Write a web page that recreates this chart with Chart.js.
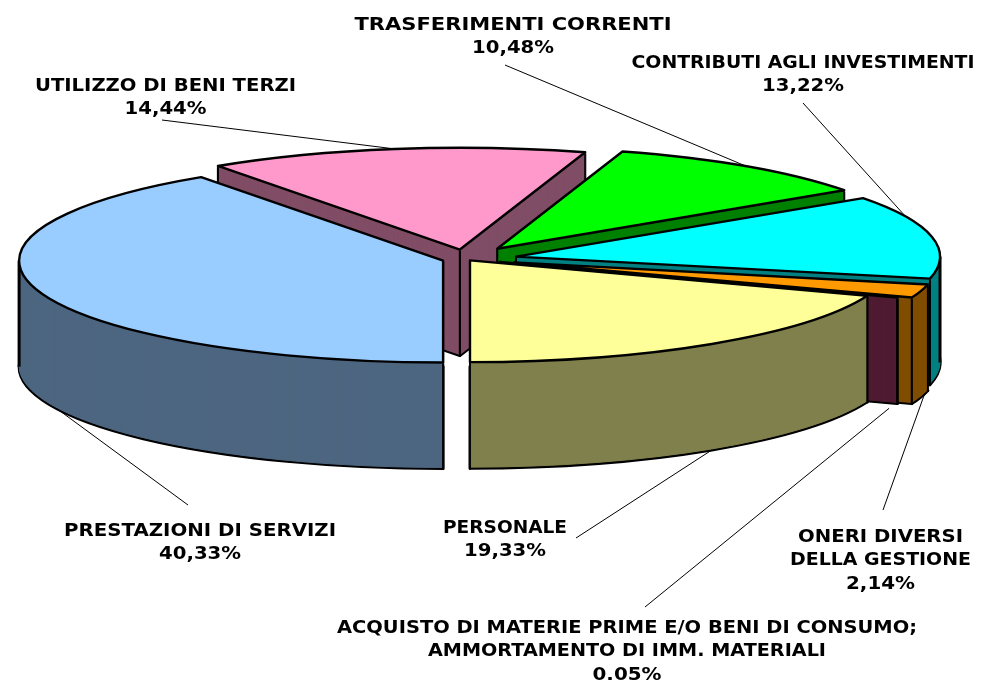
<!DOCTYPE html>
<html>
<head>
<meta charset="utf-8">
<title>Composizione della spesa</title>
<script src="https://cdn.jsdelivr.net/npm/chart.js@4"></script>
<style>
    html, body { margin: 0; padding: 0; background: #fff; }
    canvas { display: block; }
</style>
</head>
<body>
<canvas id="pie-chart" width="991" height="680"></canvas>
<script>
const categories = [
    "PRESTAZIONI DI SERVIZI",
    "UTILIZZO DI BENI TERZI",
    "TRASFERIMENTI CORRENTI",
    "CONTRIBUTI AGLI INVESTIMENTI",
    "ONERI DIVERSI DELLA GESTIONE",
    "ACQUISTO DI MATERIE PRIME E/O BENI DI CONSUMO; AMMORTAMENTO DI IMM. MATERIALI",
    "PERSONALE"
]
const shares = [40.33, 14.44, 10.48, 13.22, 2.14, 0.05, 19.33]
const shareLabels = ["40,33%", "14,44%", "10,48%", "13,22%", "2,14%", "0,05%", "19,33%"]

const sliceColors = ["#99CCFF", "#FF99CC", "#00FF00", "#00FFFF", "#FF9900", "#993366", "#FFFF99"]
const explode = [24, 40, 53, 51, 50, 36, 7]

// 3d look
const tilt = 0.24
const depth = 106

// where the labels sit: text lines, width of each line incl. the percent row, centre x,
// first baseline y, leader start, leader nudge in degrees
const labelLayout = [
    { lines: ["PRESTAZIONI DI SERVIZI"], widths: [272, 82], x: 200, y: 536, from: [188, 505], shift: -7, wall: true },
    { lines: ["UTILIZZO DI BENI TERZI"], widths: [261, 82], x: 165.5, y: 91, from: [162, 120], shift: 0, wall: false },
    { lines: ["TRASFERIMENTI CORRENTI"], widths: [317, 82], x: 513, y: 30, from: [505, 65], shift: 0, wall: false },
    { lines: ["CONTRIBUTI AGLI INVESTIMENTI"], widths: [343, 82], x: 803, y: 68, from: [803, 103], shift: -12, wall: false },
    { lines: ["ONERI DIVERSI", "DELLA GESTIONE"], widths: [165, 181, 69], x: 880.5, y: 542, from: [883, 510], shift: -2, wall: true },
    { lines: ["ACQUISTO DI MATERIE PRIME E/O BENI DI CONSUMO;", "AMMORTAMENTO DI IMM. MATERIALI"], widths: [580, 398, 69], x: 627, y: 633, from: [645, 607], shift: 3, wall: true },
    { lines: ["PERSONALE"], widths: [124, 82], x: 505, y: 533, from: [576, 538], shift: 0, wall: true }
]

function wallColor(hex) {
    const n = parseInt(hex.slice(1), 16)
    const half = v => Math.round(v / 2)
    return `rgb(${half(n >> 16)}, ${half((n >> 8) & 255)}, ${half(n & 255)})`
}

function sliceCentre(arc) {
    const mid = (arc.startAngle + arc.endAngle) / 2
    const off = arc.options.offset
    return [arc.x + Math.cos(mid) * off, arc.y + Math.sin(mid) * off * tilt]
}

function slicePath(ctx, arc, z) {
    const [cx, cy] = sliceCentre(arc)
    ctx.beginPath()
    ctx.moveTo(cx, cy + z)
    ctx.ellipse(cx, cy + z, arc.outerRadius, arc.outerRadius * tilt, 0, arc.startAngle, arc.endAngle)
    ctx.closePath()
}

function rimPoint(arc, angle, z) {
    const [cx, cy] = sliceCentre(arc)
    return [cx + Math.cos(angle) * arc.outerRadius, cy + Math.sin(angle) * arc.outerRadius * tilt + z]
}

// vertical edges of the wall: centre and both corners
function wallEdges(arc, z) {
    const [cx, cy] = sliceCentre(arc)
    return [[cx, cy + z], rimPoint(arc, arc.startAngle, z), rimPoint(arc, arc.endAngle, z)]
}

const pie3d = {
    id: "pie3d",
    beforeDatasetDraw(chart, args) {
        const ctx = chart.ctx
        const arcs = args.meta.data
        ctx.save()
        ctx.lineJoin = "round"

        // walls, stacked from the floor up so the nearer ones cover the rest
        for (let z = depth; z >= 1; z--) {
            arcs.forEach((arc, i) => {
                const col = wallColor(sliceColors[i])
                slicePath(ctx, arc, z)
                ctx.fillStyle = col
                ctx.fill()
                if (z === depth) {
                    ctx.strokeStyle = "#000"
                    ctx.lineWidth = 3
                } else {
                    ctx.strokeStyle = col
                    ctx.lineWidth = 1
                }
                ctx.stroke()
            })
            arcs.forEach(arc => {
                ctx.fillStyle = "#000"
                for (const [x, y] of wallEdges(arc, z)) ctx.fillRect(x - 1, y, 2, 1.5)
            })
        }

        // outer silhouette where the rim turns vertical, nothing stands in front of it
        arcs.forEach(arc => {
            for (const a of [0, Math.PI, 2 * Math.PI, 3 * Math.PI]) {
                if (a > arc.startAngle && a < arc.endAngle) {
                    const [x, y] = rimPoint(arc, a, 0)
                    ctx.fillStyle = "#000"
                    ctx.fillRect(x - 1.5, y, 3, depth)
                }
            }
        })

        // top faces
        arcs.forEach((arc, i) => {
            slicePath(ctx, arc, 0)
            ctx.fillStyle = sliceColors[i]
            ctx.fill()
            ctx.strokeStyle = "#000"
            ctx.lineWidth = 2.4
            ctx.stroke()
        })
        ctx.restore()
        return false
    },
    afterDatasetsDraw(chart) {
        const ctx = chart.ctx
        const arcs = chart.getDatasetMeta(0).data
        ctx.save()
        ctx.textAlign = "center"
        ctx.textBaseline = "alphabetic"
        ctx.fillStyle = "#000"
        ctx.font = "bold 17.5px 'DejaVu Sans'"
        labelLayout.forEach((lab, i) => {
            const arc = arcs[i]
            const angle = (arc.startAngle + arc.endAngle) / 2 + lab.shift * Math.PI / 180
            const end = rimPoint(arc, angle, lab.wall ? depth : 0)
            ctx.beginPath()
            ctx.moveTo(lab.from[0], lab.from[1])
            ctx.lineTo(end[0], end[1])
            ctx.strokeStyle = "#000"
            ctx.lineWidth = 1
            ctx.stroke()

            // the font here runs narrower than the original, so stretch each row to its width
            lab.lines.concat(shareLabels[i]).forEach((row, r) => {
                ctx.save()
                ctx.translate(lab.x, lab.y + r * 23.3)
                ctx.scale(lab.widths[r] / ctx.measureText(row).width, 1)
                ctx.fillText(row, 0, 0)
                ctx.restore()
            })
        })
        ctx.restore()
    }
}

const ctx = document.getElementById("pie-chart").getContext("2d")

const myChart = new Chart(ctx, {
    type: "pie",
    data: {
        labels: categories,
        datasets: [{
            data: shares,
            backgroundColor: sliceColors,
            offset: explode,
            borderWidth: 0
        }]
    },
    options: {
        responsive: false,
        animation: false,
        events: [],
        rotation: 180,
        radius: 424,
        layout: { padding: { right: 59, bottom: 162 } },
        plugins: {
            legend: { display: false },
            tooltip: { enabled: false }
        }
    },
    plugins: [pie3d]
})
</script>
</body>
</html>
